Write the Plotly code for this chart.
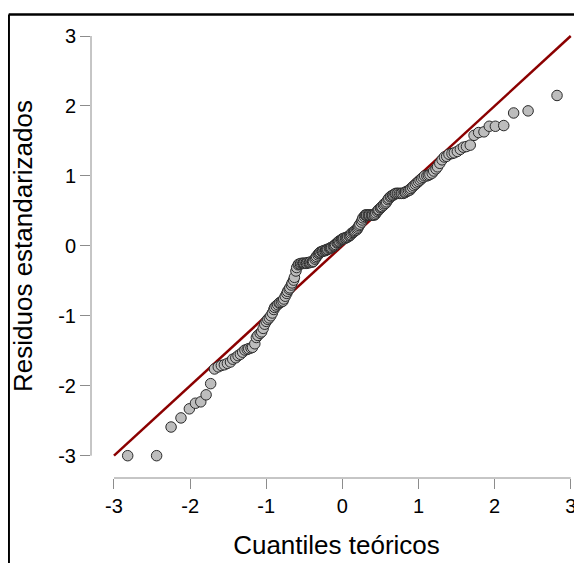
import plotly.graph_objects as go

# Theoretical quantiles (x) and standardized residuals (y)
theoretical = [
    -2.82, -2.44, -2.25, -2.12, -2.01, -1.93, -1.86, -1.79, -1.73, -1.68,
    -1.63, -1.59, -1.55, -1.51, -1.47, -1.44, -1.40, -1.37, -1.34, -1.31,
    -1.28, -1.25, -1.23, -1.20, -1.18, -1.15, -1.13, -1.11, -1.08, -1.06,
    -1.04, -1.02, -1.00, -0.98, -0.96, -0.94, -0.92, -0.90, -0.89, -0.87,
    -0.85, -0.83, -0.82, -0.80, -0.78, -0.77, -0.75, -0.73, -0.72, -0.70,
    -0.69, -0.67, -0.66, -0.64, -0.63, -0.61, -0.60, -0.58, -0.57, -0.55,
    -0.54, -0.52, -0.51, -0.50, -0.48, -0.47, -0.46, -0.44, -0.43, -0.42,
    -0.40, -0.39, -0.38, -0.36, -0.35, -0.34, -0.32, -0.31, -0.30, -0.29,
    -0.27, -0.26, -0.25, -0.23, -0.22, -0.21, -0.20, -0.19, -0.17, -0.16,
    -0.15, -0.14, -0.12, -0.11, -0.10, -0.09, -0.07, -0.06, -0.05, -0.04,
    -0.02, -0.01, 0.00,
    0.01, 0.02, 0.04, 0.05, 0.06, 0.07, 0.09, 0.10, 0.11, 0.12,
    0.14, 0.15, 0.16, 0.17, 0.19, 0.20, 0.21, 0.22, 0.23, 0.25,
    0.26, 0.27, 0.29, 0.30, 0.31, 0.32, 0.34, 0.35, 0.36, 0.38,
    0.39, 0.40, 0.42, 0.43, 0.44, 0.46, 0.47, 0.48, 0.50, 0.51,
    0.52, 0.54, 0.55, 0.57, 0.58, 0.60, 0.61, 0.63, 0.64, 0.66,
    0.67, 0.69, 0.70, 0.72, 0.73, 0.75, 0.77, 0.78, 0.80, 0.82,
    0.83, 0.85, 0.87, 0.89, 0.90, 0.92, 0.94, 0.96, 0.98, 1.00,
    1.02, 1.04, 1.06, 1.08, 1.11, 1.13, 1.15, 1.18, 1.20, 1.23,
    1.25, 1.28, 1.31, 1.34, 1.37, 1.40, 1.44, 1.47, 1.51, 1.55,
    1.59, 1.63, 1.68, 1.73, 1.79, 1.86, 1.93, 2.01, 2.12, 2.25,
    2.44, 2.82,
]
residuals = [
    -3.00, -3.00, -2.59, -2.46, -2.33, -2.25, -2.23, -2.13, -1.97, -1.76,
    -1.73, -1.71, -1.70, -1.68, -1.66, -1.62, -1.60, -1.57, -1.55, -1.52,
    -1.49, -1.48, -1.47, -1.46, -1.45, -1.40, -1.31, -1.28, -1.25, -1.23,
    -1.18, -1.12, -1.08, -1.05, -1.03, -1.00, -0.96, -0.91, -0.88, -0.86,
    -0.84, -0.82, -0.81, -0.80, -0.79, -0.76, -0.72, -0.68, -0.65, -0.62,
    -0.60, -0.56, -0.53, -0.49, -0.45, -0.36, -0.31, -0.27, -0.26, -0.26,
    -0.25, -0.25, -0.25, -0.25, -0.25, -0.25, -0.24, -0.24, -0.24, -0.23,
    -0.23, -0.23, -0.22, -0.19, -0.17, -0.15, -0.13, -0.11, -0.10, -0.09,
    -0.08, -0.08, -0.07, -0.07, -0.06, -0.06, -0.05, -0.05, -0.04, -0.03,
    -0.03, -0.02, -0.01, 0.00, 0.01, 0.02, 0.04, 0.05, 0.06, 0.07,
    0.08, 0.09, 0.10,
    0.10, 0.11, 0.11, 0.12, 0.12, 0.13, 0.14, 0.15, 0.16, 0.18,
    0.19, 0.20, 0.21, 0.22, 0.23, 0.25, 0.27, 0.29, 0.31, 0.34,
    0.37, 0.40, 0.42, 0.44, 0.44, 0.44, 0.44, 0.44, 0.44, 0.44,
    0.44, 0.44, 0.44, 0.45, 0.47, 0.49, 0.51, 0.52, 0.54, 0.55,
    0.56, 0.58, 0.60, 0.61, 0.63, 0.66, 0.68, 0.70, 0.71, 0.72,
    0.73, 0.74, 0.75, 0.75, 0.75, 0.75, 0.75, 0.75, 0.75, 0.76,
    0.77, 0.78, 0.79, 0.80, 0.82, 0.84, 0.86, 0.88, 0.90, 0.92,
    0.94, 0.96, 0.98, 1.00, 1.00, 1.01, 1.02, 1.04, 1.07, 1.10,
    1.13, 1.18, 1.23, 1.27, 1.28, 1.31, 1.32, 1.33, 1.35, 1.38,
    1.41, 1.42, 1.44, 1.58, 1.62, 1.63, 1.71, 1.71, 1.72, 1.90,
    1.93, 2.15,
]

ref_line_x = [-3, 3]
ref_line_y = [-3, 3]
tick_values = [-3, -2, -1, 0, 1, 2, 3]
tick_labels = ["-3", "-2", "-1", "0", "1", "2", "3"]

FONT = "Arial, 'Liberation Sans', sans-serif"
AXIS_GREY = "#8c8c8c"

fig = go.Figure()
fig.add_trace(go.Scatter(
    x=ref_line_x, y=ref_line_y, mode="lines",
    line=dict(color="#8b0000", width=2.5), hoverinfo="skip", showlegend=False,
))
fig.add_trace(go.Scatter(
    x=theoretical, y=residuals, mode="markers",
    marker=dict(size=10.5, color="#bdbdbd", line=dict(color="#2a2a2a", width=1)),
    showlegend=False,
))

# The page has an 8px body margin, so the figure is offset by 8px.
OFF = 8
W, H = 582 - OFF, 563 - OFF
L, R, T = 91 - OFF, 0, 14 - OFF
plot_bottom = 478 - OFF
B = H - plot_bottom
pw, ph = W - L - R, H - T - B

frame_x = (8.7 - OFF - L) / pw
frame_y = (plot_bottom - (14.5 - OFF)) / ph

fig.update_layout(
    width=W, height=H, autosize=False,
    margin=dict(l=L, r=R, t=T, b=B, pad=0),
    paper_bgcolor="white", plot_bgcolor="white",
    font=dict(family=FONT, color="black"),
    xaxis=dict(
        range=[-3.302, 3.148], tickvals=tick_values, ticktext=tick_labels,
        showgrid=False, zeroline=False, showline=False,
        ticks="outside", ticklen=10, tickwidth=1, tickcolor=AXIS_GREY,
        tickfont=dict(size=20, family=FONT, color="black"),
        ticklabeloverflow="allow",
        title=dict(text="Cuantiles teóricos", font=dict(size=26, family=FONT, color="black"), standoff=19),
        automargin=False,
    ),
    yaxis=dict(
        range=[-3.319, 3.315], tickvals=tick_values, ticktext=tick_labels,
        showgrid=False, zeroline=False, showline=False,
        ticks="outside", ticklen=10, tickwidth=1, tickcolor=AXIS_GREY,
        tickfont=dict(size=20, family=FONT, color="black"),
        title=dict(text="Residuos estandarizados", font=dict(size=26, family=FONT, color="black"), standoff=18),
        automargin=False,
    ),
    shapes=[
        # axis lines spanning only the tick range
        dict(type="line", xref="x", yref="paper", x0=-3, x1=3, y0=0, y1=0,
             line=dict(color=AXIS_GREY, width=1)),
        dict(type="line", xref="paper", yref="y", x0=0, x1=0, y0=-3, y1=3,
             line=dict(color=AXIS_GREY, width=1)),
        # outer frame (top and left edges visible)
        dict(type="line", xref="paper", yref="paper",
             x0=frame_x, x1=1.2, y0=frame_y, y1=frame_y,
             line=dict(color="black", width=2.5)),
        dict(type="line", xref="paper", yref="paper",
             x0=frame_x, x1=frame_x, y0=-0.3, y1=frame_y,
             line=dict(color="black", width=2.5)),
    ],
)

fig.write_html("out.html", default_width=f"{W}px", default_height=f"{H}px")
